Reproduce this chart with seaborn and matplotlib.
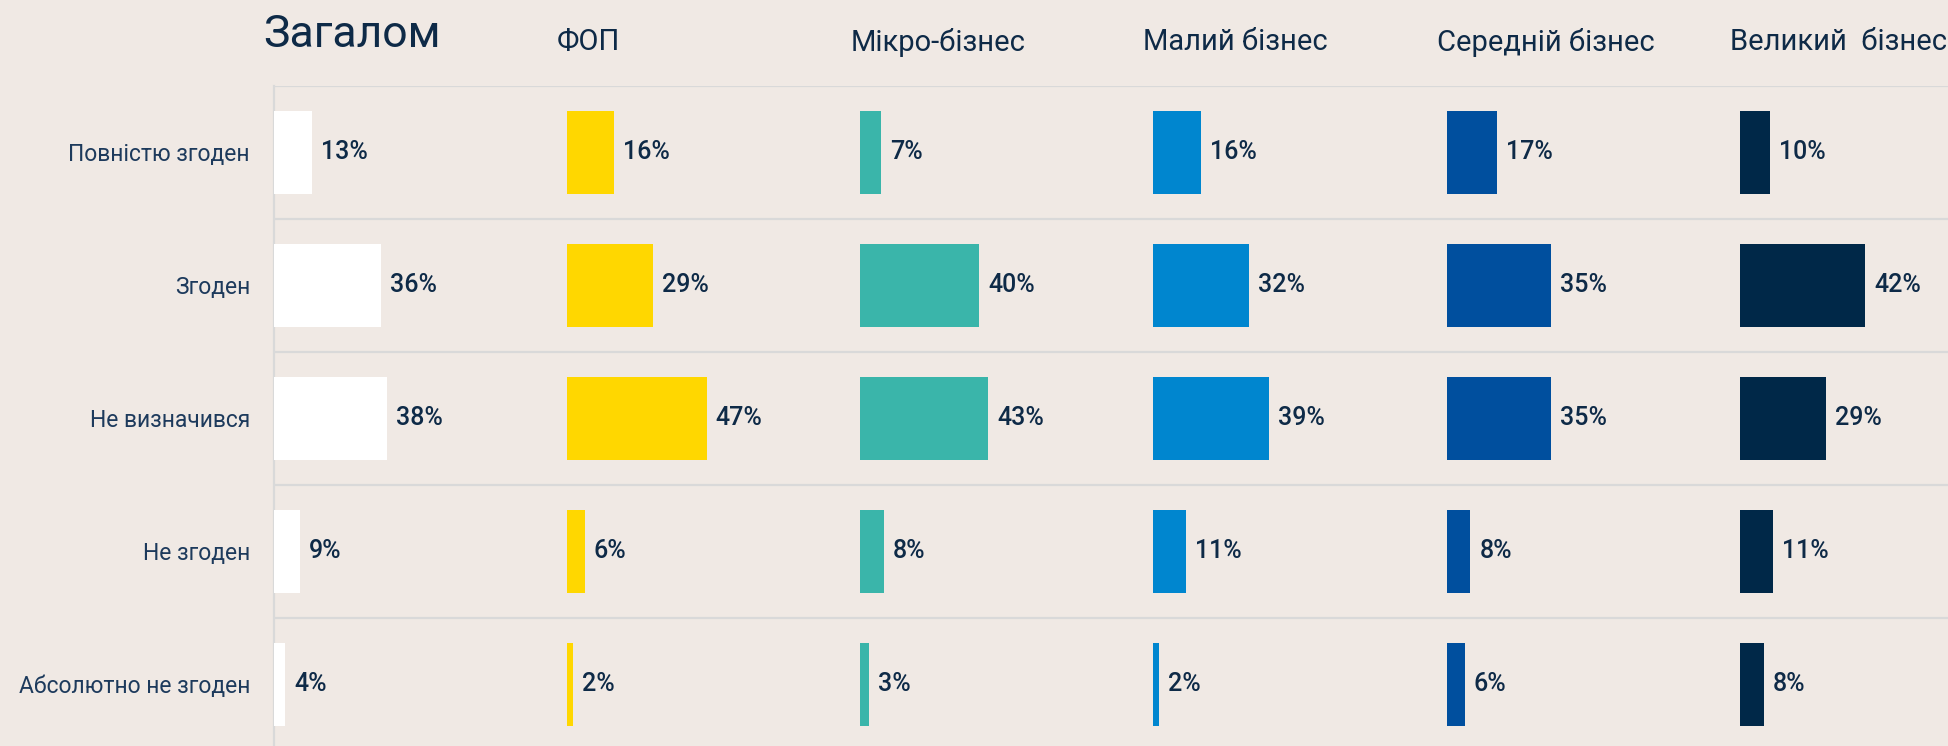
import numpy as np
import pandas as pd
import matplotlib.pyplot as plt
import seaborn as sns

# Data
categories = ['Повністю згоден', 'Згоден', 'Не визначився', 'Не згоден', 'Абсолютно не згоден']
groups = ['Загалом', 'ФОП', 'Мікро-бізнес', 'Малий бізнес', 'Середній бізнес', 'Великий  бізнес']
total = [13, 36, 38, 9, 4]
fop = [16, 29, 47, 6, 2]
micro = [7, 40, 43, 8, 3]
small = [16, 32, 39, 11, 2]
medium = [17, 35, 35, 8, 6]
large = [10, 42, 29, 11, 8]
colors = ['#FFFFFF', '#FFD700', '#3AB5AA', '#0086CF', '#004F9E', '#002848']

series = [total, fop, micro, small, medium, large]

bg = '#F0E9E4'
text_col = '#0E2A47'
grid_col = '#D9D9D9'

sns.set_theme(style='white')
plt.rcParams['font.family'] = ['Roboto', 'DejaVu Sans']

fig = plt.figure(figsize=(19.49, 7.46), dpi=100, facecolor=bg)

W, H = 1949, 746
left0 = 273.5 / W
panel_w = 293.3 / W
bottom = 1 - 751 / H
height = 665 / H

for i, (name, vals, c) in enumerate(zip(groups, series, colors)):
    ax = fig.add_axes([left0 + i * panel_w, bottom, panel_w, height])
    ax.set_facecolor('none')
    df = pd.DataFrame({'cat': categories, 'val': vals})
    sns.barplot(data=df, x='val', y='cat', color=c, saturation=1, width=0.62,
                orient='h', ax=ax, zorder=3, linewidth=0)
    ax.set_xlim(0, 98.6)
    ax.set_ylim(4.5, -0.5)
    ax.set_xlabel('')
    ax.set_ylabel('')
    ax.set_xticks([])

    # row separators
    ax.set_yticks(np.arange(-0.5, 5, 1), minor=True)
    ax.grid(False)
    ax.grid(which='minor', axis='y', color=grid_col, lw=1.6)
    ax.tick_params(which='both', length=0)
    ax.set_axisbelow(True)

    for s in ['top', 'right', 'bottom', 'left']:
        ax.spines[s].set_visible(False)

    if i == 0:
        ax.spines['left'].set_visible(True)
        ax.spines['left'].set_color(grid_col)
        ax.spines['left'].set_linewidth(1.6)
        ax.tick_params(axis='y', which='major', pad=17)
        for lab in ax.get_yticklabels():
            lab.set_fontsize(16.5)
            lab.set_color('#1D3A5C')
        ax.text(-0.034, 1.077, name, transform=ax.transAxes, ha='left',
                va='center', fontsize=32, color=text_col)
    else:
        ax.set_yticklabels([])
        ax.text(-0.034, 1.066, name, transform=ax.transAxes, ha='left',
                va='center', fontsize=21, color=text_col)

    ax.bar_label(ax.containers[0], fmt='{:.0f}%', padding=6.5,
                 fontsize=18, color=text_col, fontweight='medium')

plt.savefig('out.png', dpi=100, facecolor=bg)
plt.close()
